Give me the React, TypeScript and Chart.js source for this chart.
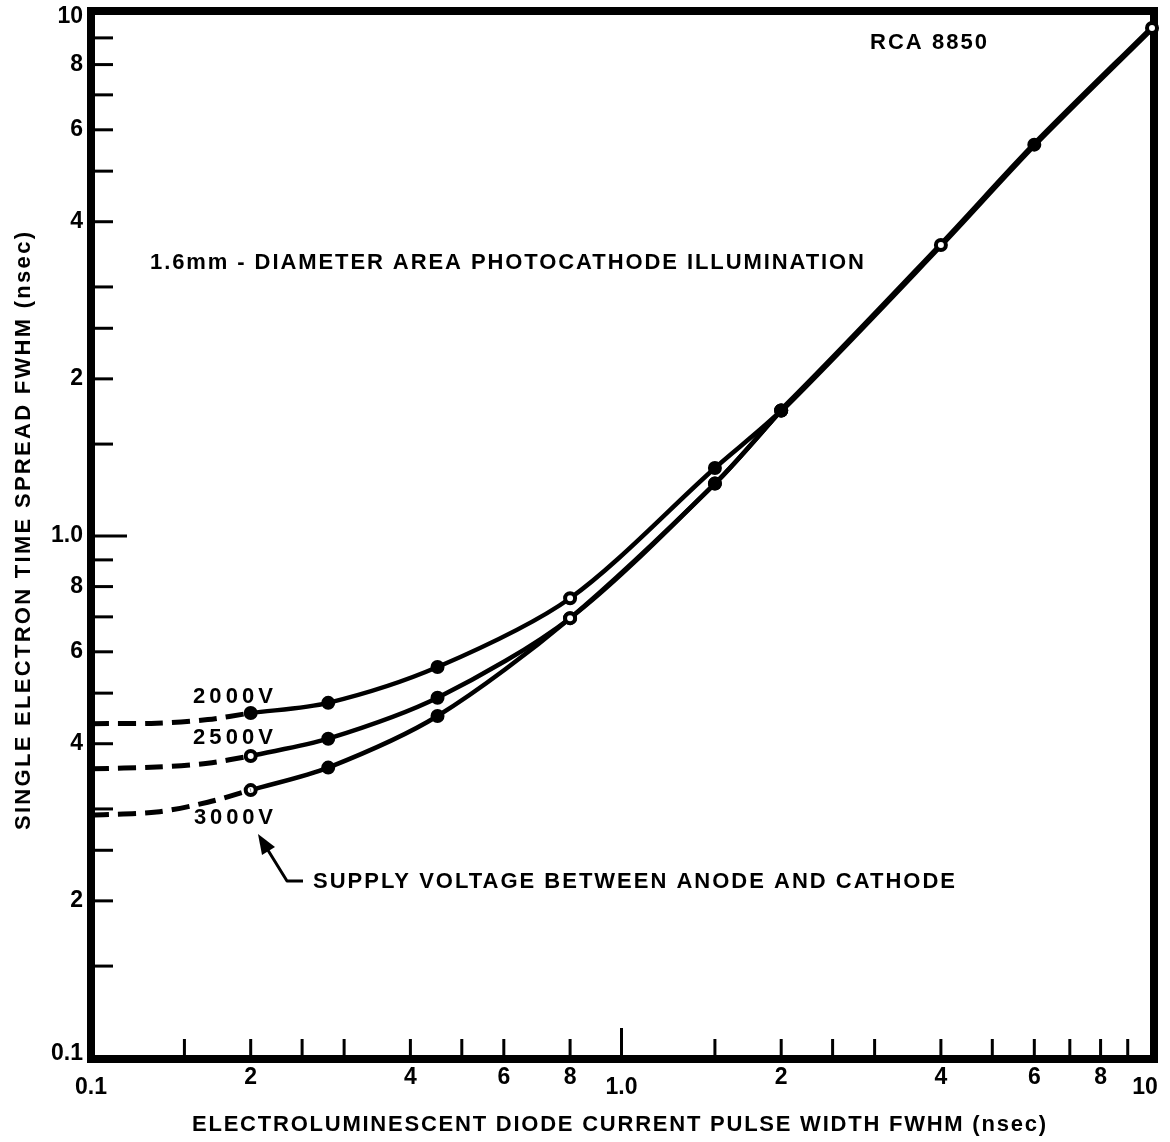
import React, { useEffect, useRef } from 'react';
import { Chart, registerables } from 'chart.js';

Chart.register(...registerables);

// ---- data ----
const xMeasured2000 = [0.2, 0.28, 0.45, 0.8, 1.5, 2, 4, 6, 10];
const yMeasured2000 = [0.458, 0.479, 0.561, 0.76, 1.35, 1.74, 3.61, 5.62, 9.4];
const xMeasured2500 = [0.2, 0.28, 0.45, 0.8, 1.5, 2];
const yMeasured2500 = [0.379, 0.409, 0.49, 0.696, 1.26, 1.74];
const xMeasured3000 = [0.2, 0.28, 0.45, 0.8, 1.5, 2];
const yMeasured3000 = [0.326, 0.36, 0.452, 0.696, 1.26, 1.74];

const xExtrap = [0.1, 0.133, 0.166, 0.2];
const yExtrap2000 = [0.437, 0.438, 0.445, 0.458];
const yExtrap2500 = [0.358, 0.361, 0.367, 0.379];
const yExtrap3000 = [0.292, 0.296, 0.309, 0.326];

const xTickValues = [0.15, 0.2, 0.25, 0.3, 0.4, 0.5, 0.6, 0.8, 1, 1.5, 2, 2.5, 3, 4, 5, 6, 7, 8, 9];
const yTickValues = [9, 8, 7, 6, 5, 4, 3, 2.5, 2, 1.5, 1, 0.9, 0.8, 0.7, 0.6, 0.5, 0.4, 0.3, 0.25, 0.2, 0.15];

const xLabelValues = [0.1, 0.2, 0.4, 0.6, 0.8, 1, 2, 4, 6, 8, 10];
const xLabelTexts = ['0.1', '2', '4', '6', '8', '1.0', '2', '4', '6', '8', '10'];
const yLabelValues = [10, 8, 6, 4, 2, 1, 0.8, 0.6, 0.4, 0.2, 0.1];
const yLabelTexts = ['10', '8', '6', '4', '2', '1.0', '8', '6', '4', '2', '0.1'];

const xTitle = 'ELECTROLUMINESCENT DIODE CURRENT PULSE WIDTH FWHM (nsec)';
const yTitle = 'SINGLE ELECTRON TIME SPREAD FWHM (nsec)';
const modelText = 'RCA 8850';
const illumText = '1.6mm - DIAMETER AREA PHOTOCATHODE ILLUMINATION';
const supplyText = 'SUPPLY VOLTAGE BETWEEN ANODE AND CATHODE';
const seriesNames = ['2000V', '2500V', '3000V'];

// indices of markers drawn as open rings
const open2000 = [3, 5, 6, 8];
const open2500 = [0, 3];
const open3000 = [0, 3];

const zip = (xs: number[], ys: number[]) => xs.map((x, i) => ({ x, y: ys[i] }));

const FONT_TXT = 'bold 22px "Liberation Sans", Arial, sans-serif';
const FONT_TICK = 'bold 23px "Liberation Sans", Arial, sans-serif';

function fitText(ctx: CanvasRenderingContext2D, text: string, x0: number, x1: number, cy: number) {
  (ctx as any).letterSpacing = '0px';
  const w = ctx.measureText(text).width;
  const ls = (x1 - x0 - w) / Math.max(1, text.length - 1);
  (ctx as any).letterSpacing = ls + 'px';
  ctx.textAlign = 'left';
  ctx.textBaseline = 'middle';
  ctx.fillText(text, x0, cy);
  (ctx as any).letterSpacing = '0px';
}

const overlay = {
  id: 'overlay',
  beforeDraw(chart: any) {
    const ctx = chart.ctx;
    ctx.save();
    ctx.fillStyle = '#ffffff';
    ctx.fillRect(0, 0, chart.width, chart.height);
    ctx.restore();
  },
  beforeDatasetsDraw(chart: any) {
    const ctx: CanvasRenderingContext2D = chart.ctx;
    const ca = chart.chartArea;
    const xs = chart.scales.x;
    const ys = chart.scales.y;
    ctx.save();
    ctx.strokeStyle = '#000';
    ctx.lineCap = 'butt';
    ctx.lineWidth = 3;
    yTickValues.forEach((v) => {
      const py = ys.getPixelForValue(v);
      const len = v === 1 ? 36 : 22;
      ctx.beginPath();
      ctx.moveTo(ca.left, py);
      ctx.lineTo(ca.left + len, py);
      ctx.stroke();
    });
    xTickValues.forEach((v) => {
      const px = xs.getPixelForValue(v);
      const len = v === 1 ? 30 : 19;
      ctx.beginPath();
      ctx.moveTo(px, ca.bottom);
      ctx.lineTo(px, ca.bottom - len);
      ctx.stroke();
    });
    ctx.lineWidth = 8;
    ctx.lineJoin = 'miter';
    ctx.strokeRect(ca.left, ca.top - 3, ca.right + 2 - ca.left, ca.bottom + 1 - (ca.top - 3));
    ctx.restore();
  },
  afterDraw(chart: any) {
    const ctx: CanvasRenderingContext2D = chart.ctx;
    const ca = chart.chartArea;
    const xs = chart.scales.x;
    const ys = chart.scales.y;
    ctx.save();
    ctx.fillStyle = '#000';
    ctx.strokeStyle = '#000';

    // tick labels
    ctx.font = FONT_TICK;
    ctx.textBaseline = 'middle';
    ctx.textAlign = 'right';
    yLabelValues.forEach((v, i) => {
      let py = ys.getPixelForValue(v);
      py = Math.min(Math.max(py, ca.top + 3), ca.bottom - 4);
      ctx.fillText(yLabelTexts[i], ca.left - 8, py);
    });
    ctx.textAlign = 'center';
    xLabelValues.forEach((v, i) => {
      let px = xs.getPixelForValue(v);
      const decade = Math.abs(Math.log10(v) - Math.round(Math.log10(v))) < 1e-9;
      if (v >= 10) px -= 7;
      ctx.fillText(xLabelTexts[i], px, ca.bottom + (decade ? 30 : 20));
    });

    // titles and annotations
    ctx.font = FONT_TXT;
    fitText(ctx, xTitle, 192, 1046, 1125);
    ctx.save();
    ctx.translate(24, 531);
    ctx.rotate(-Math.PI / 2);
    fitText(ctx, yTitle, -299, 299, 0);
    ctx.restore();
    fitText(ctx, modelText, 870, 987, 43);
    fitText(ctx, illumText, 150, 864, 263);
    fitText(ctx, seriesNames[0], 193, 273, 697);
    fitText(ctx, seriesNames[1], 193, 273, 738);
    fitText(ctx, seriesNames[2], 194, 273, 818);
    fitText(ctx, supplyText, 313, 955, 882);

    // arrow
    ctx.lineWidth = 3;
    ctx.lineJoin = 'round';
    ctx.beginPath();
    ctx.moveTo(303, 881);
    ctx.lineTo(287, 881);
    ctx.lineTo(266, 847);
    ctx.stroke();
    ctx.beginPath();
    ctx.moveTo(258, 834);
    ctx.lineTo(275, 847);
    ctx.lineTo(262, 855);
    ctx.closePath();
    ctx.fill();
    ctx.restore();
  },
};

function markerOpts(openIdx: number[]) {
  return {
    pointRadius: (c: any) => (openIdx.includes(c.dataIndex) ? 5 : 6),
    pointBorderWidth: (c: any) => (openIdx.includes(c.dataIndex) ? 4 : 2),
    pointBackgroundColor: (c: any) => (openIdx.includes(c.dataIndex) ? '#ffffff' : '#000000'),
    pointBorderColor: '#000000',
    pointHoverRadius: 6,
  };
}

export default function App() {
  const ref = useRef<HTMLCanvasElement>(null);
  useEffect(() => {
    const canvas = ref.current;
    if (!canvas) return;
    const dashCommon = {
      borderColor: '#000',
      borderWidth: 5,
      borderDash: [18, 9],
      pointRadius: 0,
      fill: false,
      tension: 0.3,
      clip: false as any,
    };
    const solidCommon = {
      borderColor: '#000',
      fill: false,
      tension: 0.3,
      clip: false as any,
    };
    const chart = new Chart(canvas, {
      type: 'line',
      data: {
        datasets: [
          { ...dashCommon, label: 'e2000', data: zip(xExtrap, yExtrap2000) },
          { ...dashCommon, label: 'e2500', data: zip(xExtrap, yExtrap2500) },
          { ...dashCommon, label: 'e3000', data: zip(xExtrap, yExtrap3000) },
          {
            ...solidCommon,
            label: seriesNames[2],
            data: zip(xMeasured3000, yMeasured3000),
            borderWidth: 4.5,
            ...markerOpts(open3000),
          },
          {
            ...solidCommon,
            label: seriesNames[1],
            data: zip(xMeasured2500, yMeasured2500),
            borderWidth: 4.5,
            ...markerOpts(open2500),
          },
          {
            ...solidCommon,
            label: seriesNames[0],
            data: zip(xMeasured2000, yMeasured2000),
            borderWidth: 4.5,
            segment: {
              borderWidth: (c: any) => (c.p0.parsed.x >= 2 ? 6 : 4.5),
            },
            ...markerOpts(open2000),
          },
        ] as any,
      },
      options: {
        responsive: false,
        animation: false,
        devicePixelRatio: 1,
        layout: { padding: { left: 91, right: 18, top: 14, bottom: 84 } },
        plugins: { legend: { display: false }, tooltip: { enabled: false } },
        events: [],
        scales: {
          x: { type: 'logarithmic', min: 0.1, max: 10, display: false },
          y: { type: 'logarithmic', min: 0.1, max: 10, display: false },
        },
      } as any,
      plugins: [overlay],
    });
    return () => chart.destroy();
  }, []);
  return (
    <div style={{ position: 'absolute', left: 0, top: 0, width: 1170, height: 1142, background: '#fff' }}>
      <canvas ref={ref} width={1170} height={1142} style={{ display: 'block', width: 1170, height: 1142 }} />
    </div>
  );
}
